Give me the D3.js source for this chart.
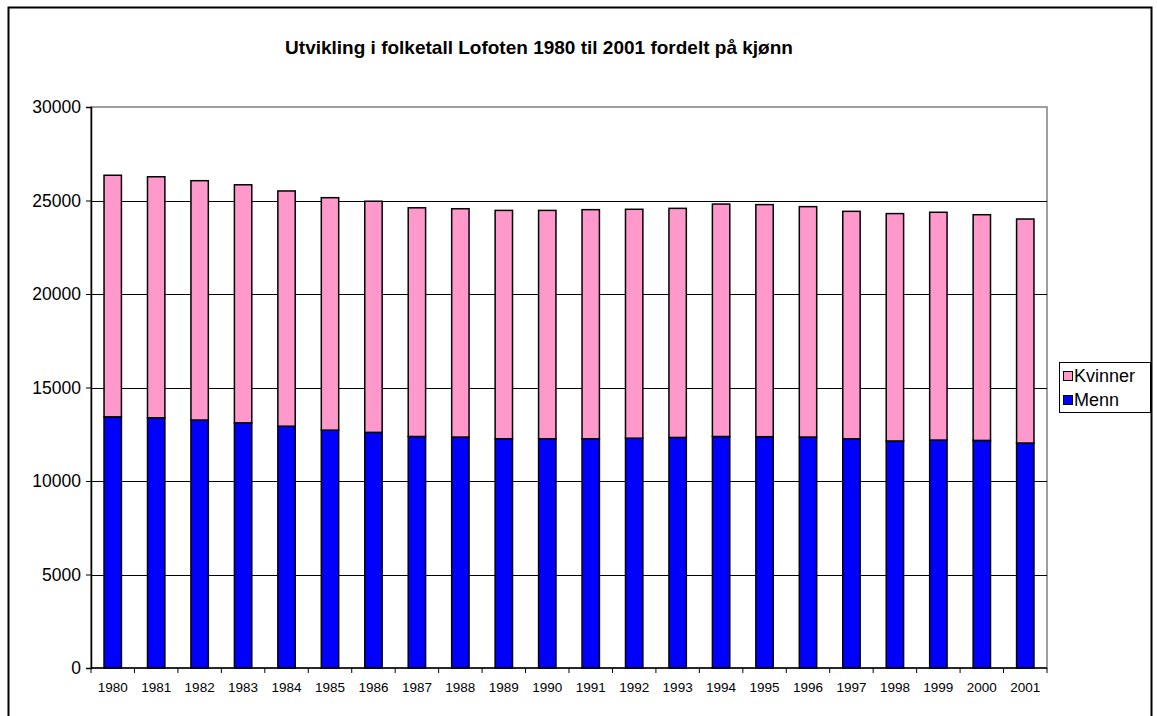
<!DOCTYPE html>
<html>
<head>
<meta charset="utf-8">
<script src="https://cdn.jsdelivr.net/npm/d3@7"></script>
<style>
  body { margin: 0; background: #fff; }
  text { font-family: "Liberation Sans", Arial, sans-serif; }
</style>
</head>
<body>
<svg id="chart" width="1157" height="716"></svg>
<script>
const years = ["1980","1981","1982","1983","1984","1985","1986","1987","1988","1989","1990",
  "1991","1992","1993","1994","1995","1996","1997","1998","1999","2000","2001"];
const menn = [13430,13380,13260,13110,12930,12720,12600,12380,12350,12260,12260,
  12260,12290,12330,12380,12370,12350,12260,12140,12190,12170,12030];
const kvinner = [12920,12890,12800,12730,12580,12430,12360,12230,12210,12210,12210,
  12250,12240,12250,12430,12410,12320,12160,12160,12180,12070,11980];
const yTicks = [0,5000,10000,15000,20000,25000,30000];
const seriesNames = ["Menn","Kvinner"];
const colors = { Menn: "#0000ff", Kvinner: "#ff99cc" };

const svg = d3.select("#chart");
const plotLeft = 91, plotRight = 1047, plotTop = 107, plotBottom = 668;

// chart border
svg.append("rect")
  .attr("x", 8.5).attr("y", 7.5)
  .attr("width", 1143).attr("height", 720)
  .attr("fill", "none").attr("stroke", "#000").attr("stroke-width", 2);

svg.append("text")
  .attr("x", 539).attr("y", 54)
  .attr("text-anchor", "middle")
  .style("font-size", "19px").style("font-weight", "bold")
  .text("Utvikling i folketall Lofoten 1980 til 2001 fordelt på kjønn");

const x = d3.scaleBand().domain(years).range([plotLeft, plotRight]).paddingInner(0.6).paddingOuter(0.3);
const y = d3.scaleLinear().domain([0, 30000]).range([plotBottom, plotTop]);

// plot area border (gray)
svg.append("rect")
  .attr("x", plotLeft).attr("y", plotTop)
  .attr("width", plotRight - plotLeft).attr("height", plotBottom - plotTop)
  .attr("fill", "none").attr("stroke", "#808080").attr("stroke-width", 1.5);

// gridlines
svg.append("g")
  .selectAll("line")
  .data(yTicks.filter(d => d > 0 && d < 30000))
  .join("line")
  .attr("x1", plotLeft).attr("x2", plotRight)
  .attr("y1", d => Math.round(y(d)) + 0.5).attr("y2", d => Math.round(y(d)) + 0.5)
  .attr("stroke", "#000").attr("stroke-width", 1);

const stackData = years.map((yr, i) => ({ year: yr, Menn: menn[i], Kvinner: kvinner[i] }));
const stacked = d3.stack().keys(seriesNames)(stackData);

svg.append("g")
  .selectAll("g")
  .data(stacked)
  .join("g")
  .attr("fill", d => colors[d.key])
  .selectAll("rect")
  .data(d => d)
  .join("rect")
  .attr("x", d => x(d.data.year))
  .attr("y", d => y(d[1]))
  .attr("width", x.bandwidth())
  .attr("height", d => y(d[0]) - y(d[1]))
  .attr("stroke", "#000").attr("stroke-width", 1.5);

// y axis
const yAxis = svg.append("g")
  .attr("transform", `translate(${plotLeft},0)`)
  .call(d3.axisLeft(y).tickValues(yTicks).tickFormat(d3.format("d")).tickSize(5).tickPadding(5));
yAxis.select(".domain").attr("stroke", "#000").attr("stroke-width", 1.5);
yAxis.selectAll("text").style("font-size", "17.5px").attr("fill", "#000")
  .style("font-family", "'Liberation Sans', Arial, sans-serif");

// x axis with ticks at band boundaries
const step = x.step();
const xg = svg.append("g").attr("transform", `translate(0,${plotBottom})`);
xg.append("line").attr("x1", plotLeft).attr("x2", plotRight).attr("stroke", "#000").attr("stroke-width", 1.5);
xg.selectAll("line.tick")
  .data(d3.range(years.length + 1))
  .join("line")
  .attr("class", "tick")
  .attr("x1", i => plotLeft + i * step).attr("x2", i => plotLeft + i * step)
  .attr("y1", 0).attr("y2", 5)
  .attr("stroke", "#000");
xg.selectAll("text")
  .data(years)
  .join("text")
  .attr("x", d => x(d) + x.bandwidth() / 2)
  .attr("y", 23.5)
  .attr("text-anchor", "middle")
  .style("font-size", "13.5px")
  .text(d => d);

// legend
const lg = svg.append("g");
lg.append("rect")
  .attr("x", 1059.5).attr("y", 362.5).attr("width", 91).attr("height", 50)
  .attr("fill", "#fff").attr("stroke", "#000");
["Kvinner", "Menn"].forEach((k, i) => {
  lg.append("rect")
    .attr("x", 1063.5).attr("y", 371.5 + i * 24).attr("width", 9).attr("height", 9)
    .attr("fill", colors[k]).attr("stroke", "#000");
  lg.append("text")
    .attr("x", 1074).attr("y", 382 + i * 24)
    .style("font-size", "18px")
    .text(k);
});
</script>
</body>
</html>
